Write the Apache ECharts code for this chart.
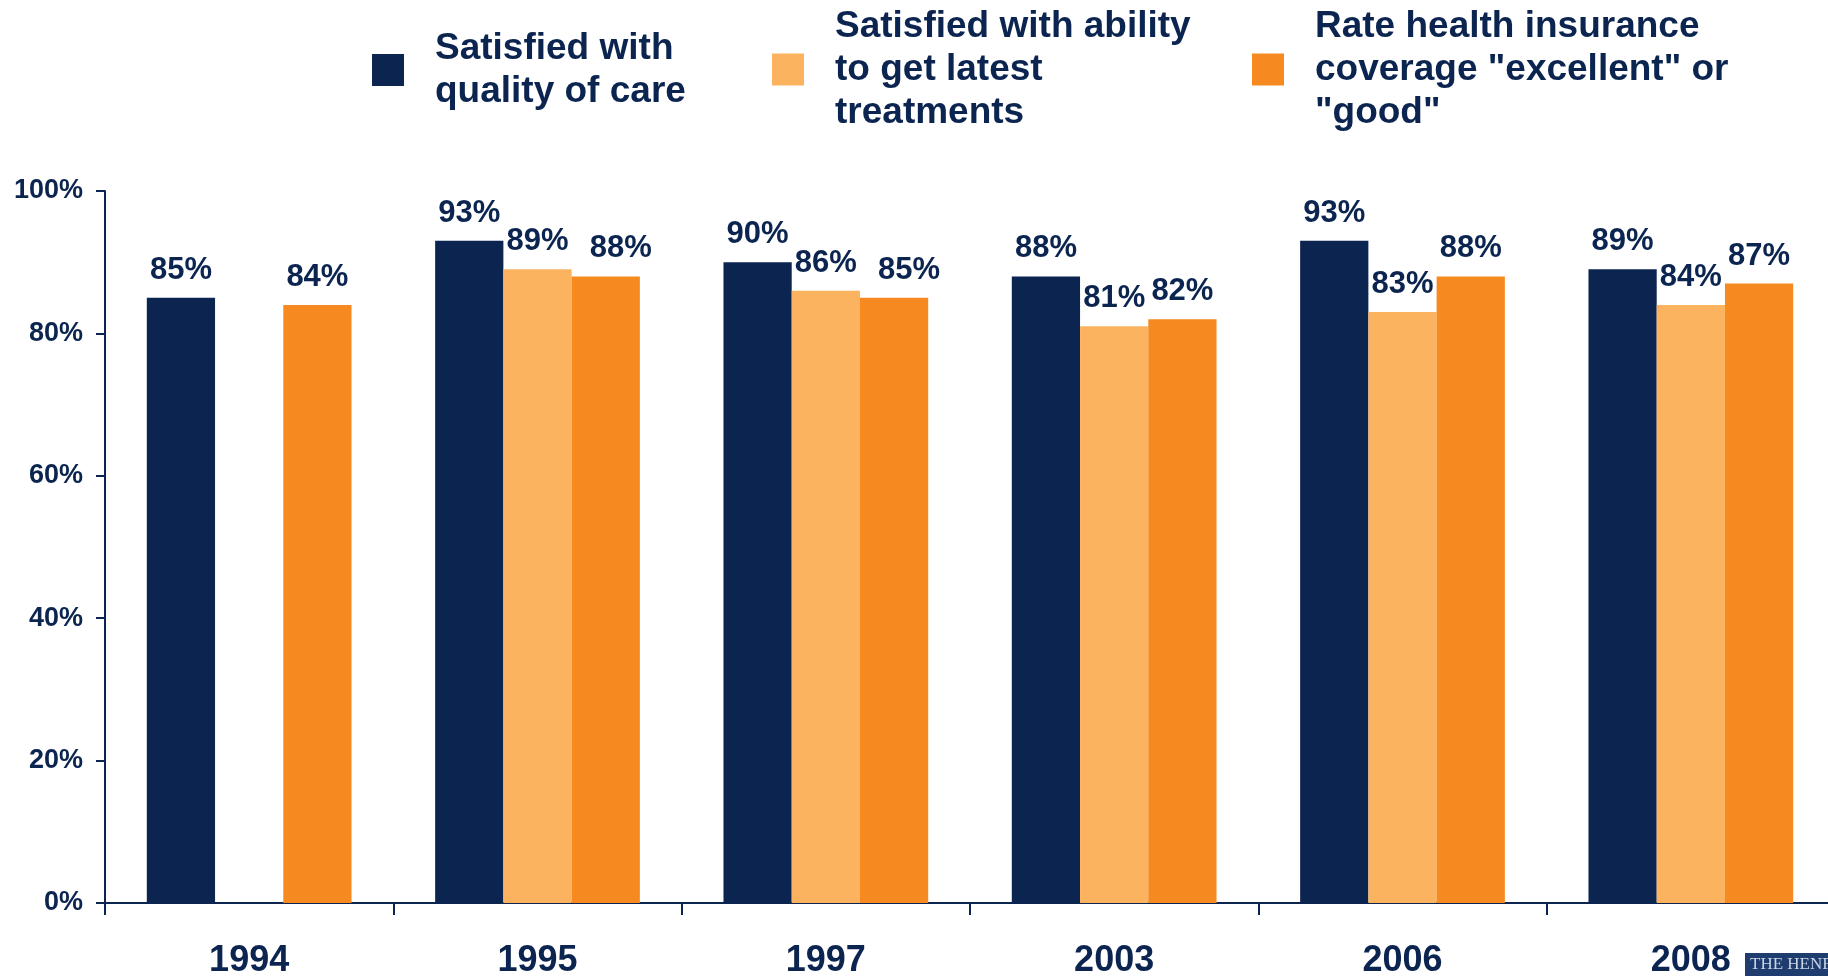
<!DOCTYPE html>
<html>
<head>
<meta charset="utf-8">
<script src="https://cdn.jsdelivr.net/npm/echarts@6/dist/echarts.min.js"></script>
<style>
  html, body { margin: 0; padding: 0; background: #fff; }
  #chart { width: 1828px; height: 976px; }
</style>
</head>
<body>
<div id="chart"></div>
<script>
// data
var years = ['1994', '1995', '1997', '2003', '2006', '2008'];
var qualityOfCare = [85, 93, 90, 88, 93, 89];
var latestTreatments = [null, 89, 86, 81, 83, 84];
var coverageGood = [84, 88, 85, 82, 88, 87];
var seriesNames = [
  'Satisfied with\nquality of care',
  'Satisfied with ability\nto get latest\ntreatments',
  'Rate health insurance\ncoverage "excellent" or\n"good"'
];
var yTicks = [0, 20, 40, 60, 80, 100];

var navy = '#0b2550';
var colors = [navy, '#fbb360', '#f6891f'];
var font = "'Liberation Sans', Arial, sans-serif";

var chart = echarts.init(document.getElementById('chart'));

function legendAt(i, left, top) {
  return {
    data: [seriesNames[i]],
    left: left,
    top: top,
    orient: 'horizontal',
    icon: 'rect',
    itemWidth: 32,
    itemHeight: 32,
    selectedMode: false,
    textStyle: {
      fontFamily: font,
      fontWeight: 'bold',
      fontSize: 37,
      lineHeight: 43,
      color: navy,
      padding: [0, 0, 0, 26]
    }
  };
}

function makeSeries(i, values) {
  return {
    name: seriesNames[i],
    type: 'bar',
    barGap: '0%',
    barCategoryGap: '29%',
    itemStyle: { color: colors[i] },
    label: {
      show: true,
      position: 'top',
      distance: 12,
      formatter: '{c}%',
      fontFamily: font,
      fontWeight: 'bold',
      fontSize: 31,
      color: navy
    },
    data: values.map(function (v, j) {
      // the orange labels in 1995 and 1997 sit a little to the right
      if (i === 2 && (j === 1 || j === 2)) {
        return { value: v, label: { offset: [15, 0] } };
      }
      return v;
    })
  };
}

var option = {
  animation: false,
  legend: [
    legendAt(0, 367, 22),
    legendAt(1, 767, 0),
    legendAt(2, 1247, 0)
  ],
  grid: {
    left: 105, right: -7, top: 191, bottom: 73,
    containLabel: false,
    outerBoundsMode: 'none'
  },
  xAxis: {
    type: 'category',
    data: years,
    axisLine: { lineStyle: { color: navy, width: 2 } },
    axisTick: { show: true, length: 12, lineStyle: { color: navy, width: 2 } },
    axisLabel: {
      fontFamily: font,
      fontWeight: 'bold',
      fontSize: 36,
      color: navy,
      margin: 40
    }
  },
  yAxis: {
    type: 'value',
    min: yTicks[0],
    max: yTicks[yTicks.length - 1],
    interval: 20,
    splitLine: { show: false },
    axisLine: { show: true, lineStyle: { color: navy, width: 2 } },
    axisTick: { show: true, length: 9, lineStyle: { color: navy, width: 2 } },
    axisLabel: {
      fontFamily: font,
      fontWeight: 'bold',
      fontSize: 27,
      color: navy,
      margin: 22,
      formatter: '{value}%'
    }
  },
  graphic: [
    {
      type: 'rect',
      left: 1745,
      top: 953,
      shape: { width: 100, height: 23 },
      style: { fill: '#1e3d6e' }
    },
    {
      type: 'text',
      left: 1750,
      top: 956,
      style: {
        text: 'THE HENRY J. KAISER',
        fontFamily: "'Liberation Serif', 'DejaVu Serif', serif",
        fontSize: 17,
        fill: '#c9d4e6'
      }
    }
  ],
  series: [
    makeSeries(0, qualityOfCare),
    makeSeries(1, latestTreatments),
    makeSeries(2, coverageGood)
  ]
};

chart.setOption(option);
</script>
</body>
</html>
